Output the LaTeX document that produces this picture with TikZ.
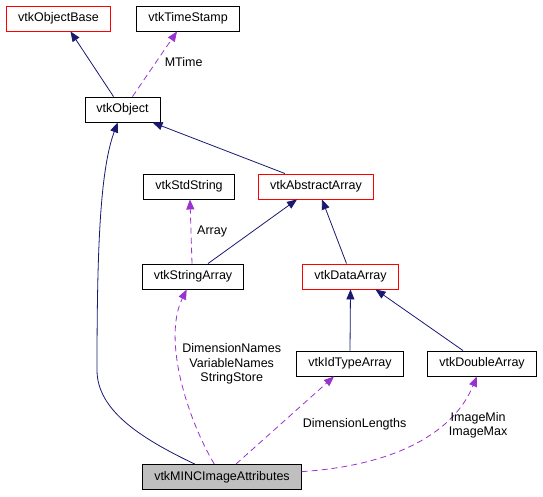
\documentclass[tikz,border=0pt]{standalone}
\usepackage{fontspec}
\setmainfont{Liberation Sans}
\usetikzlibrary{arrows.meta}
\definecolor{navyline}{HTML}{191970}
\definecolor{usecolor}{HTML}{9A32CD}
\definecolor{graybox}{HTML}{BFBFBF}
\begin{document}
\begin{tikzpicture}[x=1pt,y=-1pt]
		\tikzset{classbox/.style = {shape=rectangle,draw=black,line width=0.9pt,minimum height=25pt,inner xsep=11.5pt,inner ysep=0pt,font=\fontsize{12.5}{14.5}\selectfont}}
		\tikzset{redbox/.style = {classbox,draw=red}}
		\tikzset{inherit/.style = {-{Triangle[length=10pt,width=8pt]},draw=navyline,line width=0.8pt}}
		\tikzset{uses/.style = {-{Triangle[length=10pt,width=8pt]},draw=usecolor,line width=0.8pt,dash pattern=on 6pt off 4pt}}
		\tikzset{lbl/.style = {font=\fontsize{12.5}{14.5}\selectfont,align=center}}
		\useasboundingbox (0,0) rectangle (543,496);
		\node[redbox] (base) at (58.5,18.5) {vtkObjectBase};
		\node[classbox] (ts) at (188,18.5) {vtkTimeStamp};
		\node[classbox] (obj) at (122.5,109.5) {vtkObject};
		\node[classbox] (stdstr) at (189,186.5) {vtkStdString};
		\node[redbox] (absarr) at (316,186.5) {vtkAbstractArray};
		\node[classbox] (sarr) at (193,276.5) {vtkStringArray};
		\node[redbox] (darr) at (350.5,276.5) {vtkDataArray};
		\node[classbox] (idarr) at (350,363.5) {vtkIdTypeArray};
		\node[classbox] (dbl) at (482,363.5) {vtkDoubleArray};
		\node[classbox,fill=graybox] (minc) at (222,477) {vtkMINCImageAttributes};
		\path ([xshift=-9pt]obj.north) edge[inherit] ([xshift=12pt]base.south);
		\path ([xshift=10pt]obj.north) edge[uses] node[lbl,pos=0.53,right=5pt] {MTime} ([xshift=-11pt]ts.south);
		\path ([xshift=-31pt]absarr.north) edge[inherit] ([xshift=30pt]obj.south);
		\path ([xshift=15pt]sarr.north) edge[inherit] ([xshift=-19pt]absarr.south);
		\path ([xshift=-1pt]sarr.north) edge[uses] node[lbl,pos=0.5,right=2.5pt] {Array} ([xshift=1pt]stdstr.south);
		\path ([xshift=-4pt]darr.north) edge[inherit] ([xshift=6pt]absarr.south);
		\path (idarr.north) edge[inherit] (darr.south);
		\path ([xshift=-19pt]dbl.north) edge[inherit] ([xshift=25pt]darr.south);
		\draw[inherit] (minc) .. controls (140,438) and (97,410) .. (97,370) .. controls (97,250) and (100,170) .. (obj);
		\draw[uses] (minc) .. controls (188,420) and (162,340) .. node[lbl,pos=0.58,right=0pt] {DimensionNames\\VariableNames\\StringStore} (sarr);
		\path ([xshift=14pt]minc.north) edge[uses] node[lbl,pos=0.45,right=19pt] {DimensionLengths} ([xshift=-16pt]idarr.south);
		\draw[uses] (minc) .. controls (400,465) and (455,430) .. node[lbl,pos=0.65,right=4pt] {ImageMin\\ImageMax} (dbl);
	\end{tikzpicture}
\end{document}
